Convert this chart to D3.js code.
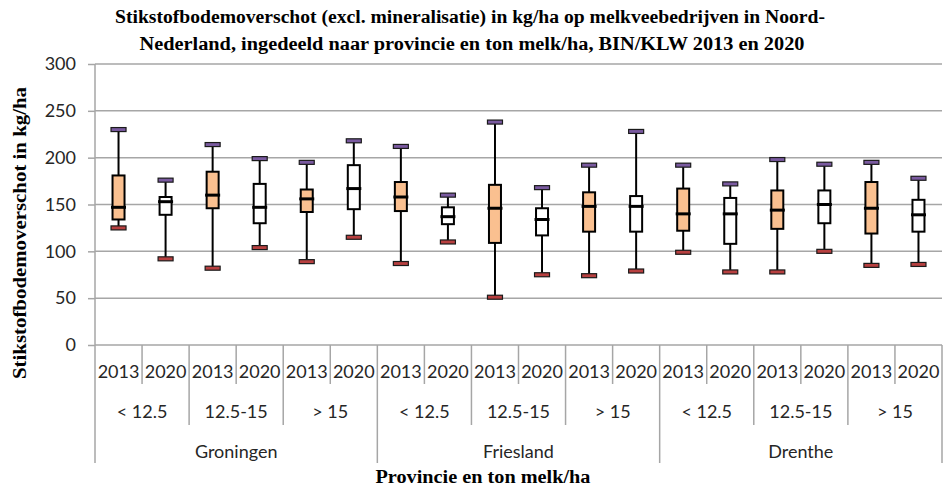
<!DOCTYPE html>
<html><head><meta charset="utf-8">
<script src="https://cdn.jsdelivr.net/npm/d3@7"></script>
<style>
html,body{margin:0;padding:0;background:#fff;}
svg{display:block;}
</style></head>
<body>
<script>
// ---- data ----
const provinces = ["Groningen", "Friesland", "Drenthe"];
const classes = ["< 12.5", "12.5-15", "> 15"];
const years = ["2013", "2020"];
const maxV   = [230, 176, 214, 199, 195, 218, 212, 160, 238, 168, 192, 228, 192, 172, 198, 193, 195, 178];
const q3V    = [181, 158, 185, 172, 166, 192, 174, 147, 171, 146, 163, 159, 167, 157, 165, 165, 174, 155];
const medV   = [147, 153, 160, 147, 156, 167, 158, 137, 146, 134, 148, 148, 140, 140, 144, 150, 146, 139];
const q1V    = [134, 139, 146, 130, 142, 145, 143, 129, 109, 117, 121, 121, 122, 108, 124, 130, 119, 121];
const minV   = [125,  92,  82, 104,  89, 115,  87, 110,  51,  75,  74,  79,  99,  78,  78, 100,  85,  86];
const yTicks = [0, 50, 100, 150, 200, 250, 300];
const titleLines = ["Stikstofbodemoverschot (excl. mineralisatie) in kg/ha op melkveebedrijven in Noord-",
                    "Nederland, ingedeeld naar provincie en ton melk/ha, BIN/KLW 2013 en 2020"];
const yTitle = "Stikstofbodemoverschot in kg/ha";
const xTitle = "Provincie en ton melk/ha";

// build rows
const rows = [];
provinces.forEach((p, pi) => classes.forEach((c, ci) => years.forEach((yr, yi) => {
  const i = pi * 6 + ci * 2 + yi;
  rows.push({key: i, prov: p, cls: c, year: yr, max: maxV[i], q3: q3V[i], med: medV[i], q1: q1V[i], min: minV[i]});
})));

const W = 945, H = 487;
const L = 95, R = 942, T = 64, B = 345;
const svg = d3.select("body").append("svg").attr("width", W).attr("height", H);

const x = d3.scaleBand().domain(d3.range(rows.length)).range([L, R]).padding(0);
const y = d3.scaleLinear().domain([0, 300]).range([B, T]);
const grid = "#a6a6a6";
const numFont = "Lato, 'Open Sans', sans-serif";
const fs = 18;

// y axis ticks + labels
const gAxis = svg.append("g").attr("transform", `translate(${L},0)`)
  .call(d3.axisLeft(y).tickValues(yTicks).tickSize(7).tickPadding(12).tickFormat(d3.format("d")));
gAxis.select(".domain").remove();
gAxis.selectAll(".tick line").attr("stroke", grid).attr("stroke-width", 1.5);
gAxis.selectAll(".tick text").attr("font-family", numFont).attr("font-size", fs).attr("fill", "#262626");
// gridlines
svg.append("g").selectAll("line").data(yTicks).join("line")
  .attr("x1", L).attr("x2", R).attr("y1", d => y(d)).attr("y2", d => y(d))
  .attr("stroke", grid).attr("stroke-width", 1.5);
svg.append("line").attr("x1", L).attr("x2", L).attr("y1", T).attr("y2", B)
  .attr("stroke", grid).attr("stroke-width", 1.5);

// category axis lines
const bounds = d3.range(rows.length + 1);
svg.append("g").selectAll("line").data(bounds).join("line")
  .attr("x1", i => i < rows.length ? x(i) : R).attr("x2", i => i < rows.length ? x(i) : R)
  .attr("y1", B)
  .attr("y2", i => i % 6 === 0 ? 463 : (i % 2 === 0 ? 425 : 384))
  .attr("stroke", grid).attr("stroke-width", 1.5);

const bw = x.bandwidth();
// year labels
svg.append("g").selectAll("text").data(rows).join("text")
  .attr("x", d => x(d.key) + bw / 2).attr("y", 378)
  .attr("text-anchor", "middle").attr("font-family", numFont).attr("font-size", fs).attr("fill", "#262626")
  .text(d => d.year);
// class labels
svg.append("g").selectAll("text").data(rows.filter(d => d.year === years[0])).join("text")
  .attr("x", d => x(d.key) + bw).attr("y", 418)
  .attr("text-anchor", "middle").attr("font-family", numFont).attr("font-size", fs).attr("fill", "#262626")
  .text(d => d.cls);
// province labels
svg.append("g").selectAll("text").data(rows.filter((d, i) => i % 6 === 0)).join("text")
  .attr("x", d => x(d.key) + bw * 3).attr("y", 458)
  .attr("text-anchor", "middle").attr("font-family", numFont).attr("font-size", fs).attr("fill", "#262626")
  .text(d => d.prov);

// boxes
const boxW = 12, capW = 15;
const g = svg.append("g").selectAll("g").data(rows).join("g")
  .attr("transform", d => `translate(${x(d.key) + bw / 2},0)`);
g.append("line").attr("x1", 0).attr("x2", 0).attr("y1", d => y(d.max)).attr("y2", d => y(d.min))
  .attr("stroke", "#000").attr("stroke-width", 2);
g.append("rect").attr("x", -boxW / 2).attr("width", boxW)
  .attr("y", d => y(d.q3)).attr("height", d => y(d.q1) - y(d.q3))
  .attr("fill", d => d.year === "2013" ? "#fac090" : "#ffffff").attr("stroke", "#000").attr("stroke-width", 2);
g.append("line").attr("x1", -boxW / 2 - 1.5).attr("x2", boxW / 2 + 1.5)
  .attr("y1", d => y(d.med)).attr("y2", d => y(d.med)).attr("stroke", "#000").attr("stroke-width", 3);
g.append("rect").attr("x", -capW / 2).attr("width", capW).attr("y", d => y(d.max) - 2).attr("height", 4)
  .attr("fill", "#7a5aa0").attr("stroke", "#1a1a1a").attr("stroke-width", 1.2);
g.append("rect").attr("x", -capW / 2).attr("width", capW).attr("y", d => y(d.min) - 2).attr("height", 4)
  .attr("fill", "#b84040").attr("stroke", "#1a1a1a").attr("stroke-width", 1.2);

// titles
const serif = "'Liberation Serif', 'Times New Roman', serif";
svg.append("text").attr("x", 470).attr("y", 23).attr("text-anchor", "middle")
  .attr("font-family", serif).attr("font-weight", "bold").attr("font-size", 18)
  .attr("textLength", 710).attr("lengthAdjust", "spacingAndGlyphs").text(titleLines[0]);
svg.append("text").attr("x", 472).attr("y", 50).attr("text-anchor", "middle")
  .attr("font-family", serif).attr("font-weight", "bold").attr("font-size", 18)
  .attr("textLength", 665).attr("lengthAdjust", "spacingAndGlyphs").text(titleLines[1]);
svg.append("text").attr("transform", "translate(26,233) rotate(-90)").attr("text-anchor", "middle")
  .attr("font-family", serif).attr("font-weight", "bold").attr("font-size", 18)
  .attr("textLength", 292).attr("lengthAdjust", "spacingAndGlyphs").text(yTitle);
svg.append("text").attr("x", 483).attr("y", 483).attr("text-anchor", "middle")
  .attr("font-family", serif).attr("font-weight", "bold").attr("font-size", 18)
  .attr("textLength", 215).attr("lengthAdjust", "spacingAndGlyphs").text(xTitle);
</script>
</body></html>
